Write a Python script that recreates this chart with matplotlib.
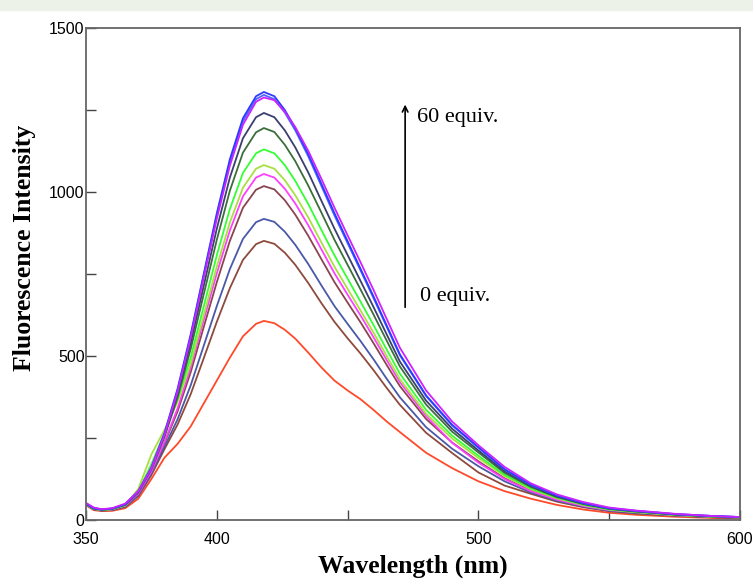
import numpy as np
import matplotlib
matplotlib.use("Agg")
import matplotlib.pyplot as plt
from matplotlib.patches import Rectangle

# wavelength grid (nm)
wl = [350, 353, 356, 360, 365, 370, 375, 380, 385, 390, 395, 400, 405, 410, 415, 418,
      422, 426, 430, 435, 440, 445, 450, 455, 460, 465, 470, 480, 490, 500, 510, 520,
      530, 540, 550, 560, 575, 590, 600]

# fluorescence intensity, one list per titration step
blue1 = [50, 36, 32, 35, 48, 88, 160, 265, 400, 565, 750, 935, 1100, 1225, 1292, 1305,
         1292, 1250, 1195, 1115, 1025, 935, 850, 765, 680, 592, 505, 380, 290, 222, 155, 108,
         75, 52, 36, 28, 18, 12, 9]
blue2 = [50, 36, 32, 35, 48, 87, 158, 262, 395, 560, 745, 928, 1092, 1216, 1283, 1296,
         1283, 1242, 1188, 1108, 1018, 928, 844, 760, 675, 588, 502, 378, 288, 220, 154, 107,
         75, 52, 36, 28, 18, 12, 9]
purple = [52, 38, 33, 36, 50, 88, 158, 260, 392, 555, 738, 918, 1080, 1205, 1275, 1288,
          1280, 1245, 1198, 1125, 1040, 952, 868, 785, 700, 612, 525, 395, 300, 228, 162, 112,
          78, 55, 38, 29, 19, 12, 9]
navy = [50, 35, 32, 34, 47, 86, 157, 258, 385, 539, 714, 888, 1044, 1164, 1228, 1241,
        1228, 1188, 1136, 1059, 973, 888, 808, 728, 648, 565, 483, 364, 278, 212, 149, 104,
        72, 50, 35, 27, 17, 11, 9]
dkgreen = [49, 35, 31, 34, 46, 84, 155, 253, 373, 521, 688, 854, 1004, 1120, 1182, 1195,
           1183, 1144, 1094, 1019, 937, 854, 778, 702, 625, 546, 468, 352, 269, 206, 144, 101,
           70, 49, 34, 26, 17, 11, 8]
lime = [49, 34, 31, 33, 45, 88, 170, 265, 370, 495, 651, 807, 948, 1058, 1118, 1130,
        1118, 1082, 1034, 963, 884, 807, 736, 665, 593, 519, 446, 336, 257, 196, 138, 97,
        68, 47, 32, 25, 16, 10, 8]
ygreen = [48, 34, 30, 33, 44, 95, 200, 275, 360, 476, 624, 772, 907, 1013, 1071, 1082,
          1071, 1036, 990, 922, 846, 772, 705, 638, 570, 499, 429, 324, 248, 189, 134, 94,
          66, 46, 32, 24, 15, 10, 8]
pink = [48, 34, 30, 32, 44, 80, 148, 238, 340, 465, 609, 752, 883, 987, 1044, 1055,
        1044, 1010, 965, 898, 825, 752, 687, 623, 556, 487, 420, 317, 235, 175, 125, 88,
        62, 43, 30, 24, 15, 10, 8]
maroon = [48, 34, 30, 32, 43, 79, 146, 234, 331, 450, 588, 725, 851, 952, 1007, 1018,
          1008, 975, 931, 866, 795, 725, 663, 602, 538, 472, 408, 308, 236, 179, 127, 90,
          63, 44, 30, 23, 15, 10, 7]
slate = [47, 33, 29, 31, 41, 75, 141, 223, 307, 410, 531, 652, 765, 857, 908, 918,
         909, 879, 839, 780, 715, 652, 598, 545, 489, 430, 374, 283, 217, 164, 118, 84,
         59, 41, 28, 21, 14, 9, 7]
brown = [47, 32, 29, 30, 40, 73, 137, 216, 291, 383, 493, 604, 707, 793, 841, 851,
         842, 815, 778, 722, 661, 604, 554, 507, 456, 402, 351, 266, 204, 145, 105, 80,
         56, 39, 27, 20, 13, 8, 6]
red = [45, 30, 27, 28, 36, 65, 125, 190, 232, 285, 355, 425, 495, 560, 598, 607,
       600, 580, 553, 510, 465, 425, 395, 368, 335, 300, 268, 205, 158, 118, 88, 65,
       46, 32, 22, 16, 10, 6, 5]

curves = [red, brown, slate, maroon, pink, ygreen, lime, dkgreen, navy, blue2, blue1, purple]
colors = ["#ff4a2a", "#8e4a3c", "#4a58a8", "#8a4550", "#ff40ff", "#a8e040",
          "#33ff33", "#3c6e3c", "#3a3f6e", "#5566ff", "#2b3cff", "#cc22ff"]

xticks = [350, 400, 450, 500, 550, 600]
xticklabels = ["350", "400", "", "500", "", "600"]
yticks = [0, 250, 500, 750, 1000, 1250, 1500]
yticklabels = ["0", "", "500", "", "1000", "", "1500"]

fig = plt.figure(figsize=(7.53, 5.81), dpi=100)
fig.patches.append(Rectangle((0, 0.983), 1, 0.017, transform=fig.transFigure,
                             color="#edf2e8", zorder=0))
ax = fig.add_axes([0.1142, 0.105, 0.8685, 0.8468])

for y, c in zip(curves, colors):
    ax.plot(wl, y, color=c, lw=1.3)

ax.set_xlim(350, 600)
ax.set_ylim(0, 1500)
tickfont = {"family": ["Liberation Sans Narrow", "Liberation Sans"], "size": 11.5}
ax.set_xticks(xticks)
ax.set_xticklabels(xticklabels, fontdict=tickfont)
ax.set_yticks(yticks)
ax.set_yticklabels(yticklabels, fontdict=tickfont)
ax.tick_params(direction="in", length=7, width=1, color="#444444", pad=1)
ax.tick_params(axis="x", pad=9)
for s in ax.spines.values():
    s.set_color("#666666")
    s.set_linewidth(1.3)

lblfont = {"family": "Liberation Serif", "weight": "bold", "size": 18.5}
ax.set_xlabel("Wavelength (nm)", fontdict=lblfont)
ax.xaxis.set_label_coords(0.5, -0.07)
ax.set_ylabel("Fluorescence Intensity", fontdict=lblfont)
ax.yaxis.set_label_coords(-0.076, 0.553)

ax.annotate("", xy=(472, 1275), xytext=(472, 640),
            arrowprops=dict(arrowstyle="->", color="black", lw=1.2))
ax.text(476.5, 1228, "60 equiv.", family="Liberation Serif", fontsize=16, va="center")
ax.text(477.5, 680, "0 equiv.", family="Liberation Serif", fontsize=16, va="center")

fig.savefig("out.png", dpi=100)
